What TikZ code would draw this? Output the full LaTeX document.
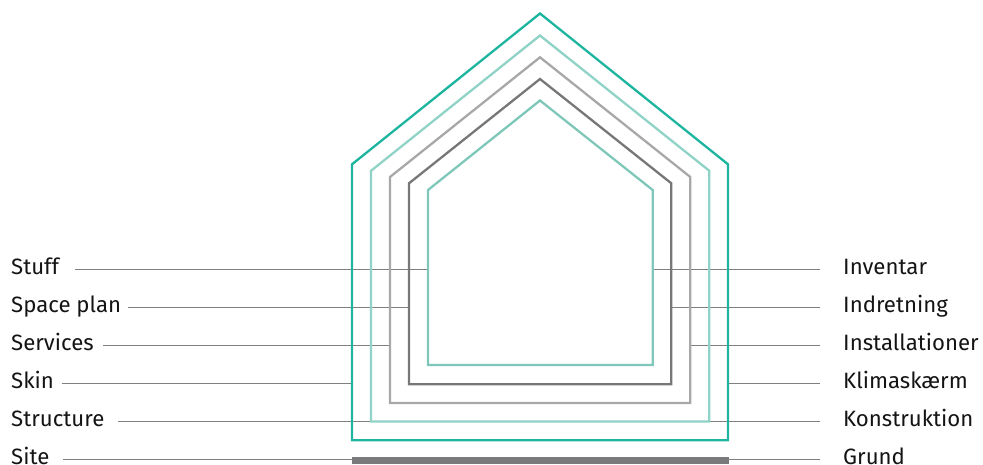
\documentclass[tikz,border=0pt]{standalone}
\usepackage{fontspec}
\setmainfont{Fira Sans}
\definecolor{tealA}{HTML}{1DB5A0}
\definecolor{tealB}{HTML}{8FD3C7}
\definecolor{greyC}{HTML}{A8A8AB}
\definecolor{greyD}{HTML}{77777A}
\definecolor{tealE}{HTML}{7FC8B9}
\definecolor{leadgrey}{HTML}{808080}
\definecolor{bargrey}{HTML}{7A7A7D}
\begin{document}
\begin{tikzpicture}[x=1pt,y=-1pt,
  lbl/.style={inner sep=0pt,text height=14pt,text depth=4pt,font=\fontsize{22.2}{25}\selectfont,text=black!92},
  lleft/.style={lbl,anchor=west},
  lright/.style={lbl,anchor=west},
  leader/.style={draw=leadgrey,line width=1.1pt},
  house/.style={line width=2.3pt,line join=miter}]
\useasboundingbox (0,0) rectangle (983,464);
% pentagon corners
\coordinate (p1a) at (540,13.5);  \coordinate (p1l) at (352,164.3); \coordinate (p1r) at (728,164.3);
\coordinate (p1bl) at (352,440.3); \coordinate (p1br) at (728,440.3);
\coordinate (p2a) at (540,35.5);  \coordinate (p2l) at (371,170.8); \coordinate (p2r) at (709.3,170.8);
\coordinate (p2bl) at (371,421.5); \coordinate (p2br) at (709.3,421.5);
\coordinate (p3a) at (540,57.3);  \coordinate (p3l) at (390,177); \coordinate (p3r) at (690.3,177);
\coordinate (p3bl) at (390,403); \coordinate (p3br) at (690.3,403);
\coordinate (p4a) at (540,79);  \coordinate (p4l) at (409,183.3); \coordinate (p4r) at (671.3,183.3);
\coordinate (p4bl) at (409,384.3); \coordinate (p4br) at (671.3,384.3);
\coordinate (p5a) at (540,100.5);  \coordinate (p5l) at (428,190); \coordinate (p5r) at (652.7,190);
\coordinate (p5bl) at (428,365); \coordinate (p5br) at (652.7,365);
\coordinate (barl) at (351.5,456.7); \coordinate (barr) at (729,464);
% labels left
\node[lleft] (stuff) at (11,269.3) {Stuff};
\node[lleft] (space) at (11,307.3) {Space plan};
\node[lleft] (serv) at (11,345.3) {Services};
\node[lleft] (skin) at (11,383.3) {Skin};
\node[lleft] (struc) at (11,421.2) {Structure};
\node[lleft] (site) at (11,459.3) {Site};
% labels right
\node[lright] (inv) at (843,269.3) {Inventar};
\node[lright] (indr) at (843,307.3) {Indretning};
\node[lright] (inst) at (843,345.3) {Installationer};
\node[lright] (klim) at (843,383.3) {Klimaskærm};
\node[lright] (kons) at (843,421.2) {Konstruktion};
\node[lright] (grund) at (843,459.3) {Grund};
% leader lines
\coordinate (sL) at (75,269.3);  \coordinate (spL) at (128,307.3);
\coordinate (seL) at (103,345.3); \coordinate (skL) at (62,383.3);
\coordinate (stL) at (118,421.2); \coordinate (siL) at (63,459.3);
\draw[leader] (sL) -- (stuff.east -| p5bl);
\draw[leader] (spL) -- (space.east -| p4bl);
\draw[leader] (seL) -- (serv.east -| p3bl);
\draw[leader] (skL) -- (skin.east -| p1bl);
\draw[leader] (stL) -- (struc.east -| p2bl);
\draw[leader] (siL) -- (site.east -| barl);
\draw[leader] ([xshift=-23pt]inv.west) -- (inv.west -| p5br);
\draw[leader] ([xshift=-23pt]indr.west) -- (indr.west -| p4br);
\draw[leader] ([xshift=-23pt]inst.west) -- (inst.west -| p3br);
\draw[leader] ([xshift=-23pt]klim.west) -- (klim.west -| p1br);
\draw[leader] ([xshift=-23pt]kons.west) -- (kons.west -| p2br);
\draw[leader] ([xshift=-23pt]grund.west) -- (grund.west -| barr);
% houses
\draw[house,draw=tealE] (p5bl) -- (p5l) -- (p5a) -- (p5r) -- (p5br) -- cycle;
\draw[house,draw=greyD] (p4bl) -- (p4l) -- (p4a) -- (p4r) -- (p4br) -- cycle;
\draw[house,draw=greyC] (p3bl) -- (p3l) -- (p3a) -- (p3r) -- (p3br) -- cycle;
\draw[house,draw=tealB] (p2bl) -- (p2l) -- (p2a) -- (p2r) -- (p2br) -- cycle;
\draw[house,draw=tealA] (p1bl) -- (p1l) -- (p1a) -- (p1r) -- (p1br) -- cycle;
\fill[bargrey] (barl) rectangle (barr);
\end{tikzpicture}
\end{document}
